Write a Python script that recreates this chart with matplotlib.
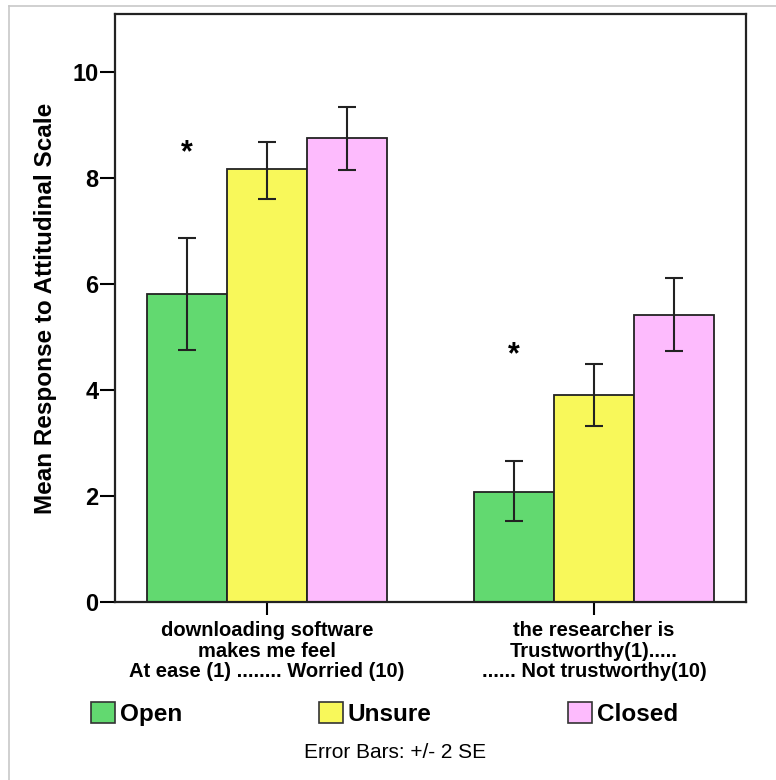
import numpy as np
import matplotlib
matplotlib.use("Agg")
import matplotlib.pyplot as plt
from matplotlib.patches import Patch
from matplotlib.lines import Line2D

# === Data ===
categories = ["downloading software\nmakes me feel\nAt ease (1) ........ Worried (10)",
              "the researcher is\nTrustworthy(1).....\n...... Not trustworthy(10)"]
groups = ["Open", "Unsure", "Closed"]
means = {
    "Open":   [5.81, 2.08],
    "Unsure": [8.17, 3.90],
    "Closed": [8.75, 5.42],
}
err_hi = {
    "Open":   [6.87, 2.66],
    "Unsure": [8.68, 4.49],
    "Closed": [9.34, 6.11],
}
err_lo = {
    "Open":   [4.75, 1.53],
    "Unsure": [7.60, 3.32],
    "Closed": [8.15, 4.74],
}
star_y = [8.6, 4.79]
colors = {"Open": "#62D970", "Unsure": "#F8F85A", "Closed": "#FDBBFD"}

# === Styling ===
plt.rcParams.update({
    "font.family": ["Liberation Sans", "DejaVu Sans"],
    "axes.edgecolor": "#222222",
})

fig = plt.figure(figsize=(7.76, 7.80), dpi=100)
ax = fig.add_axes([115 / 776, 1 - 602 / 780, 631 / 776, 588 / 780])

x = np.arange(len(categories))
width = 0.245
for i, g in enumerate(groups):
    pos = x + (i - 1) * width
    m = np.array(means[g])
    yerr = [m - np.array(err_lo[g]), np.array(err_hi[g]) - m]
    ax.bar(pos, m, width=width, color=colors[g], edgecolor="#222222", linewidth=1.3)
    ax.errorbar(pos, m, yerr=yerr, fmt="none", ecolor="#222222", elinewidth=1.5,
                capsize=6.2, capthick=1.5)

# significance markers over the Open bars (glyph sits high in its box, nudge down)
for j in range(len(categories)):
    ax.annotate("*", (x[j] - width, star_y[j]), xytext=(0, -5), textcoords="offset points",
                ha="center", va="center", fontsize=22, fontweight="bold")

ax.set_xlim(-0.465, 1.465)
ax.set_ylim(0, 11.09)
ax.set_yticks([0, 2, 4, 6, 8, 10])
ax.set_xticks(x)
ax.set_xticklabels(categories, fontsize=14.5, fontweight="bold", linespacing=1.1)
ax.tick_params(axis="y", labelsize=17, length=11, width=1.5, pad=1)
ax.tick_params(axis="x", length=9, width=1.5, pad=5)
for lab in ax.get_yticklabels():
    lab.set_fontweight("bold")
for s in ax.spines.values():
    s.set_linewidth(1.6)
ax.set_ylabel("Mean Response to Attitudinal Scale", fontsize=17.5, fontweight="bold", labelpad=11)

# === Legend ===
handles = [Patch(facecolor=colors[g], edgecolor="#333333", linewidth=1.2) for g in groups]
fig.legend(handles, groups, loc="center left", bbox_to_anchor=(91 / 776, 1 - 714 / 780),
           ncol=3, frameon=False, borderpad=0, borderaxespad=0, handlelength=1.0,
           handleheight=0.95, handletextpad=0.2, columnspacing=5.6,
           prop={"family": "Liberation Sans", "weight": "bold", "size": 17.5})

fig.text(395 / 776, 1 - 752 / 780, "Error Bars: +/- 2 SE", ha="center", va="center",
         fontsize=15, family=["Liberation Sans Narrow", "Liberation Sans"])

# light grey frame lines at top and left of the image
fig.add_artist(Line2D([9 / 776, 9 / 776], [0, 1 - 6 / 780], color="#c8c8c8", lw=1.2))
fig.add_artist(Line2D([9 / 776, 1], [1 - 6 / 780, 1 - 6 / 780], color="#c8c8c8", lw=1.2))

plt.savefig("out.png", dpi=100)
